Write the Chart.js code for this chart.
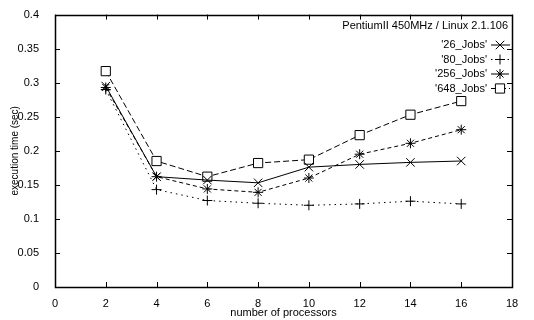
<!DOCTYPE html>
<html>
<head>
<meta charset="utf-8">
<script src="https://cdn.jsdelivr.net/npm/chart.js@4.4.0/dist/chart.umd.min.js"></script>
<style>
  body { margin: 0; background: #fff; }
  #wrap { width: 534px; height: 320px; position: relative; }
</style>
</head>
<body>
<div id="wrap"><canvas id="chart"></canvas></div>
<script>
// Data
const processors = [2, 4, 6, 8, 10, 12, 14, 16];
const jobs26  = [0.295, 0.162, 0.157, 0.153, 0.176, 0.180, 0.183, 0.185];
const jobs80  = [0.290, 0.143, 0.127, 0.123, 0.120, 0.122, 0.126, 0.122];
const jobs256 = [0.293, 0.162, 0.144, 0.139, 0.160, 0.195, 0.211, 0.231];
const jobs648 = [0.317, 0.185, 0.162, 0.182, 0.187, 0.223, 0.253, 0.273];

const xTicks = [0, 2, 4, 6, 8, 10, 12, 14, 16, 18];
const yTicks = [0, 0.05, 0.1, 0.15, 0.2, 0.25, 0.3, 0.35, 0.4];
const plotTitle = 'PentiumII 450MHz / Linux 2.1.106';

const FONT = '"Liberation Sans", Arial, sans-serif';
const pts = vals => processors.map((p, i) => ({ x: p, y: vals[i] }));

const series = [
  { label: "'26_Jobs'",  data: jobs26,  style: 'crossRot', r: 6, dash: [] },
  { label: "'80_Jobs'",  data: jobs80,  style: 'cross',    r: 5, dash: [1.5, 4] },
  { label: "'256_Jobs'", data: jobs256, style: 'star',     r: 5, dash: [4, 3] },
  { label: "'648_Jobs'", data: jobs648, style: 'rect',     r: 6.5, dash: [6, 3] }
];

// Frame, mirrored inward ticks, title and gnuplot-like key
const decor = {
  id: 'decor',
  afterDatasetsDraw(chart) {
    const { ctx, chartArea: a, scales: { x, y } } = chart;
    ctx.save();
    ctx.strokeStyle = '#000';
    ctx.lineWidth = 1;
    ctx.setLineDash([]);
    ctx.beginPath();
    xTicks.forEach(v => {
      const px = Math.round(x.getPixelForValue(v)) + 0.5;
      ctx.moveTo(px, a.bottom); ctx.lineTo(px, a.bottom - 5);
      ctx.moveTo(px, a.top); ctx.lineTo(px, a.top + 5);
    });
    yTicks.forEach(v => {
      const py = Math.round(y.getPixelForValue(v)) + 0.5;
      ctx.moveTo(a.left, py); ctx.lineTo(a.left + 5, py);
      ctx.moveTo(a.right, py); ctx.lineTo(a.right - 5, py);
    });
    ctx.stroke();
    ctx.lineWidth = 1.5;
    ctx.strokeRect(Math.round(a.left) + 0.5, Math.round(a.top) + 0.5,
      Math.round(a.right - a.left), Math.round(a.bottom - a.top));

    ctx.fillStyle = '#000';
    ctx.font = '11px ' + FONT;
    ctx.textAlign = 'right';
    ctx.textBaseline = 'middle';
    ctx.fillText(plotTitle, 508, 26);

    series.forEach((s, i) => {
      const ly = 45 + i * 14.5;
      ctx.fillText(s.label, 487, ly);
      ctx.lineWidth = 1;
      ctx.setLineDash(s.dash);
      ctx.beginPath();
      ctx.moveTo(491, ly); ctx.lineTo(510, ly);
      ctx.stroke();
      ctx.setLineDash([]);
      ctx.fillStyle = '#fff';
      Chart.helpers.drawPoint(ctx, { pointStyle: s.style, radius: s.r, borderWidth: 1 }, 500, ly);
      ctx.fillStyle = '#000';
    });
    ctx.restore();
  }
};

new Chart(document.getElementById('chart'), {
  type: 'line',
  data: {
    datasets: series.map(s => ({
      label: s.label,
      data: pts(s.data),
      borderColor: '#000',
      borderWidth: 1,
      borderDash: s.dash,
      pointStyle: s.style,
      pointRadius: s.r,
      pointBorderWidth: 1,
      pointBorderColor: '#000',
      pointBackgroundColor: '#fff',
      tension: 0,
      fill: false
    }))
  },
  options: {
    responsive: true,
    maintainAspectRatio: false,
    animation: false,
    layout: { padding: { top: 11, right: 22, left: 0, bottom: 0 } },
    plugins: { legend: { display: false }, tooltip: { enabled: false } },
    scales: {
      x: {
        type: 'linear',
        min: 0, max: 18,
        afterBuildTicks: s => { s.ticks = xTicks.map(v => ({ value: v })); },
        afterFit: s => { s.height = 33; },
        grid: { display: false },
        border: { display: false },
        ticks: { color: '#000', font: { family: FONT, size: 11 }, padding: 2, maxRotation: 0, callback: v => String(v) },
        title: { display: true, text: 'number of processors', color: '#000', font: { family: FONT, size: 11 }, padding: { top: 0, bottom: 0 } }
      },
      y: {
        min: 0, max: 0.4,
        afterBuildTicks: s => { s.ticks = yTicks.map(v => ({ value: v })); },
        afterFit: s => { s.width = 55; },
        grid: { display: false },
        border: { display: false },
        ticks: { color: '#000', font: { family: FONT, size: 11 }, padding: 8, callback: v => String(v) },
        title: { display: true, text: 'execution time (sec)', color: '#000', font: { family: FONT, size: 10 }, padding: { top: 9, bottom: 0 } }
      }
    }
  },
  plugins: [decor]
});
</script>
</body>
</html>
